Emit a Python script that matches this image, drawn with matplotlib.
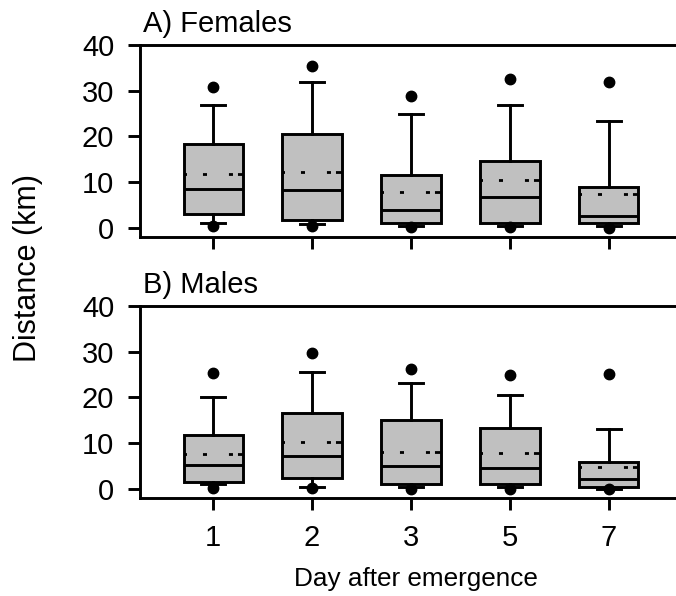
import matplotlib
matplotlib.use('Agg')
import matplotlib.pyplot as plt

plt.rcParams['font.family'] = ['Liberation Sans', 'DejaVu Sans']

days = ['1', '2', '3', '5', '7']

# females
f_q1 = [3.1, 1.75, 1.0, 1.0, 1.0]
f_med = [8.5, 8.3, 3.8, 6.7, 2.7]
f_q3 = [18.4, 20.5, 11.6, 14.7, 9.0]
f_mean = [11.7, 12.2, 7.9, 10.5, 7.4]
f_whislo = [1.0, 0.9, 0.4, 0.3, 0.3]
f_whishi = [26.9, 31.8, 24.9, 26.9, 23.3]
f_out_hi = [30.9, 35.4, 28.9, 32.6, 31.8]
f_out_lo = [0.3, 0.3, 0.1, 0.1, 0.0]

# males
m_q1 = [1.5, 2.3, 1.0, 1.0, 0.3]
m_med = [5.2, 7.1, 5.0, 4.5, 2.1]
m_q3 = [11.8, 16.6, 15.0, 13.4, 5.8]
m_mean = [7.7, 10.2, 8.1, 7.8, 4.8]
m_whislo = [1.0, 0.45, 0.3, 0.3, 0.0]
m_whishi = [20.2, 25.6, 23.1, 20.6, 13.2]
m_out_hi = [25.3, 29.7, 26.2, 25.0, 25.2]
m_out_lo = [0.1, 0.1, 0.0, 0.0, -0.1]


def make_stats(q1, med, q3, mean, lo, hi, ohi, olo):
    stats = []
    for i in range(len(days)):
        stats.append(dict(q1=q1[i], med=med[i], q3=q3[i], mean=mean[i],
                          whislo=lo[i], whishi=hi[i],
                          fliers=[ohi[i], olo[i]], label=days[i]))
    return stats


lw = 2.1
fig = plt.figure(figsize=(6.76, 5.96), dpi=100)
ax1 = fig.add_axes([140/676, 1-237/596, 1-140/676, 192/596])
ax2 = fig.add_axes([140/676, 1-498/596, 1-140/676, 192/596])

panels = [(ax1, make_stats(f_q1, f_med, f_q3, f_mean, f_whislo, f_whishi, f_out_hi, f_out_lo), 'A) Females'),
          (ax2, make_stats(m_q1, m_med, m_q3, m_mean, m_whislo, m_whishi, m_out_hi, m_out_lo), 'B) Males')]

for ax, stats, title in panels:
    ax.bxp(stats, positions=range(len(days)), widths=0.6, capwidths=0.24,
           patch_artist=True, showmeans=True, meanline=True,
           boxprops=dict(facecolor='#c0c0c0', edgecolor='black', linewidth=lw),
           whiskerprops=dict(color='black', linewidth=lw),
           capprops=dict(color='black', linewidth=lw),
           medianprops=dict(color='black', linewidth=lw),
           meanprops=dict(color='black', linewidth=2.0,
                          linestyle=(14.6, (1.45, 7.9, 1.45, 1.8, 2.9, 5.75))),
           flierprops=dict(marker='o', markerfacecolor='black',
                           markeredgecolor='black', markersize=7.5))
    ax.set_xlim(-0.74, 4.68)
    ax.set_ylim(-2, 40)
    ax.set_yticks([0, 10, 20, 30, 40])
    ax.spines['right'].set_visible(False)
    for s in ['left', 'bottom', 'top']:
        ax.spines[s].set_linewidth(lw)
    ax.tick_params(direction='out', length=8.6, width=lw, labelsize=21, pad=10)
    ax.text(0.005, 1.068, title, transform=ax.transAxes, fontsize=21,
            va='baseline', ha='left')

ax1.set_xticklabels([])
ax2.set_xticklabels(days)

fig.text(416/676, 1-586/596, 'Day after emergence', fontsize=18.8,
         ha='center', va='baseline')
fig.text(28/676, 1-268/596, 'Distance (km)', fontsize=22, rotation=90,
         ha='center', va='center')

fig.savefig('out.png', dpi=100)
